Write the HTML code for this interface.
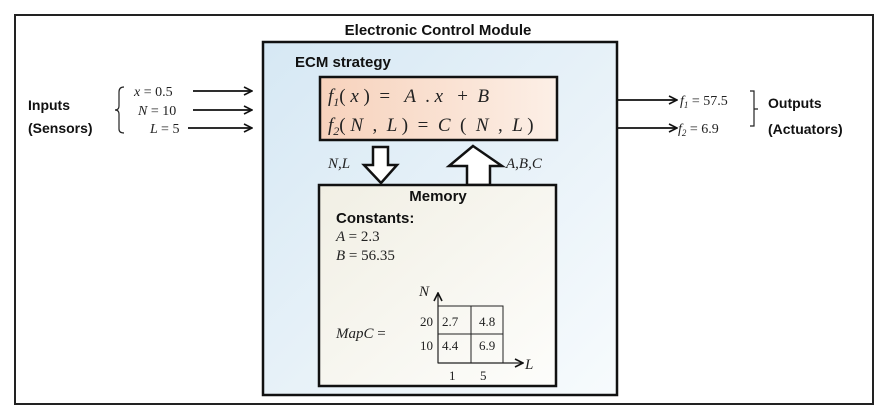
<!DOCTYPE html>
<html><head><meta charset="utf-8"><style>
html,body{margin:0;padding:0;background:#fff;width:888px;height:414px;overflow:hidden}
svg{display:block}
.b{font-family:"Liberation Sans",sans-serif;font-weight:bold;fill:#111}
.m{font-family:"Liberation Serif",serif;font-style:italic;fill:#222}
.n{font-family:"Liberation Serif",serif;fill:#222}
.pre{white-space:pre}
</style></head><body>
<svg width="888" height="414" viewBox="0 0 888 414" xmlns="http://www.w3.org/2000/svg">
<defs>
<linearGradient id="bl" x1="0" y1="0" x2="1" y2="1">
<stop offset="0" stop-color="#d6e8f4"/><stop offset="0.6" stop-color="#eaf3f9"/><stop offset="1" stop-color="#f7fbfd"/></linearGradient>
<linearGradient id="pe" x1="0" y1="0" x2="1" y2="0">
<stop offset="0" stop-color="#f7d2bc"/><stop offset="1" stop-color="#fcefe6"/></linearGradient>
<linearGradient id="me" x1="0" y1="0" x2="1" y2="1">
<stop offset="0" stop-color="#f1efe4"/><stop offset="1" stop-color="#fdfdfb"/></linearGradient>
<marker id="ah" markerWidth="10" markerHeight="10" refX="9" refY="5" orient="auto" markerUnits="userSpaceOnUse">
<path d="M1,1 L9,5 L1,9" fill="none" stroke="#111" stroke-width="1.6"/></marker>
</defs>
<rect x="15" y="15" width="858" height="389" fill="#fff" stroke="#222" stroke-width="2"/>
<text class="b" x="438" y="35" font-size="15" text-anchor="middle">Electronic Control Module</text>
<rect x="263" y="42" width="354" height="353" fill="url(#bl)" stroke="#111" stroke-width="2.5"/>
<text class="b" x="295" y="67" font-size="15">ECM strategy</text>
<rect x="320" y="77" width="237" height="63" fill="url(#pe)" stroke="#111" stroke-width="2.5"/>
<text class="m pre" x="328" y="102" font-size="19" xml:space="preserve">f<tspan font-size="12" dy="4">1</tspan><tspan dy="-4" font-style="normal">( </tspan>x<tspan font-style="normal"> )  =   </tspan>A <tspan font-style="normal"> . </tspan>x <tspan font-style="normal">  +  </tspan>B</text>
<text class="m pre" x="328" y="131" font-size="19" xml:space="preserve">f<tspan font-size="12" dy="4">2</tspan><tspan dy="-4" font-style="normal">( </tspan>N <tspan font-style="normal"> ,  </tspan>L <tspan font-style="normal">)  =  </tspan>C <tspan font-style="normal"> (  </tspan>N <tspan font-style="normal"> ,  </tspan>L <tspan font-style="normal">)</tspan></text>
<path d="M373,147 L388,147 L388,165 L397,165 L381,183 L364,165 L373,165 Z" fill="#fff" stroke="#111" stroke-width="2.5"/>
<text class="m" x="328" y="168" font-size="15">N,L</text>
<path d="M473,146 L502,166 L490,166 L490,185 L467,185 L467,166 L449,166 Z" fill="#fff" stroke="#111" stroke-width="2.5"/>
<text class="m" x="506" y="168" font-size="15">A,B,C</text>
<rect x="319" y="185" width="237" height="201" fill="url(#me)" stroke="#111" stroke-width="2.5"/>
<text class="b" x="438" y="201" font-size="15" text-anchor="middle">Memory</text>
<text class="b" x="336" y="223" font-size="15">Constants:</text>
<text class="m" x="336" y="241" font-size="15">A <tspan font-style="normal">= 2.3</tspan></text>
<text class="m" x="336" y="260" font-size="15">B <tspan font-style="normal">= 56.35</tspan></text>
<text class="m" x="336" y="338" font-size="15">MapC <tspan font-style="normal">=</tspan></text>
<rect x="438" y="306" width="65" height="57" fill="none" stroke="#222" stroke-width="1"/>
<line x1="471" y1="306" x2="471" y2="363" stroke="#222"/>
<line x1="438" y1="334" x2="503" y2="334" stroke="#222"/>
<line x1="438" y1="363" x2="438" y2="293" stroke="#222" stroke-width="1.2" marker-end="url(#ah)"/>
<line x1="438" y1="363" x2="523" y2="363" stroke="#222" stroke-width="1.2" marker-end="url(#ah)"/>
<text class="m" x="419" y="296" font-size="15">N</text>
<text class="m" x="525" y="369" font-size="15">L</text>
<g class="n" font-size="13">
<text x="420" y="326">20</text><text x="442" y="326">2.7</text><text x="479" y="326">4.8</text>
<text x="420" y="350">10</text><text x="442" y="350">4.4</text><text x="479" y="350">6.9</text>
<text x="449" y="380">1</text><text x="480" y="380">5</text>
</g>
<text class="b" x="28" y="110" font-size="14">Inputs</text>
<text class="b" x="28" y="133" font-size="14">(Sensors)</text>
<path d="M124,87 Q119,87 119,92 L119,106 Q119,110 115,110 Q119,110 119,114 L119,129 Q119,133 124,133" fill="none" stroke="#222" stroke-width="1.2"/>
<text class="m" x="134" y="96" font-size="14">x <tspan font-style="normal">= 0.5</tspan></text>
<text class="m" x="138" y="115" font-size="14">N <tspan font-style="normal">= 10</tspan></text>
<text class="m" x="150" y="133" font-size="14">L <tspan font-style="normal">= 5</tspan></text>
<line x1="193" y1="91" x2="252" y2="91" stroke="#111" stroke-width="1.8" marker-end="url(#ah)"/>
<line x1="193" y1="110" x2="252" y2="110" stroke="#111" stroke-width="1.8" marker-end="url(#ah)"/>
<line x1="188" y1="128" x2="252" y2="128" stroke="#111" stroke-width="1.8" marker-end="url(#ah)"/>
<line x1="618" y1="100" x2="677" y2="100" stroke="#111" stroke-width="1.8" marker-end="url(#ah)"/>
<line x1="618" y1="128" x2="677" y2="128" stroke="#111" stroke-width="1.8" marker-end="url(#ah)"/>
<text class="m" x="680" y="105" font-size="14">f<tspan font-size="9" dy="3">1</tspan><tspan dy="-3" font-style="normal"> = 57.5</tspan></text>
<text class="m" x="678" y="133" font-size="14">f<tspan font-size="9" dy="3">2</tspan><tspan dy="-3" font-style="normal"> = 6.9</tspan></text>
<path d="M750,91 L754,91 L754,126 L750,126 M754,109 L758,109" fill="none" stroke="#222" stroke-width="1.2"/>
<text class="b" x="768" y="108" font-size="14">Outputs</text>
<text class="b" x="768" y="134" font-size="14">(Actuators)</text>
</svg>
</body></html>
